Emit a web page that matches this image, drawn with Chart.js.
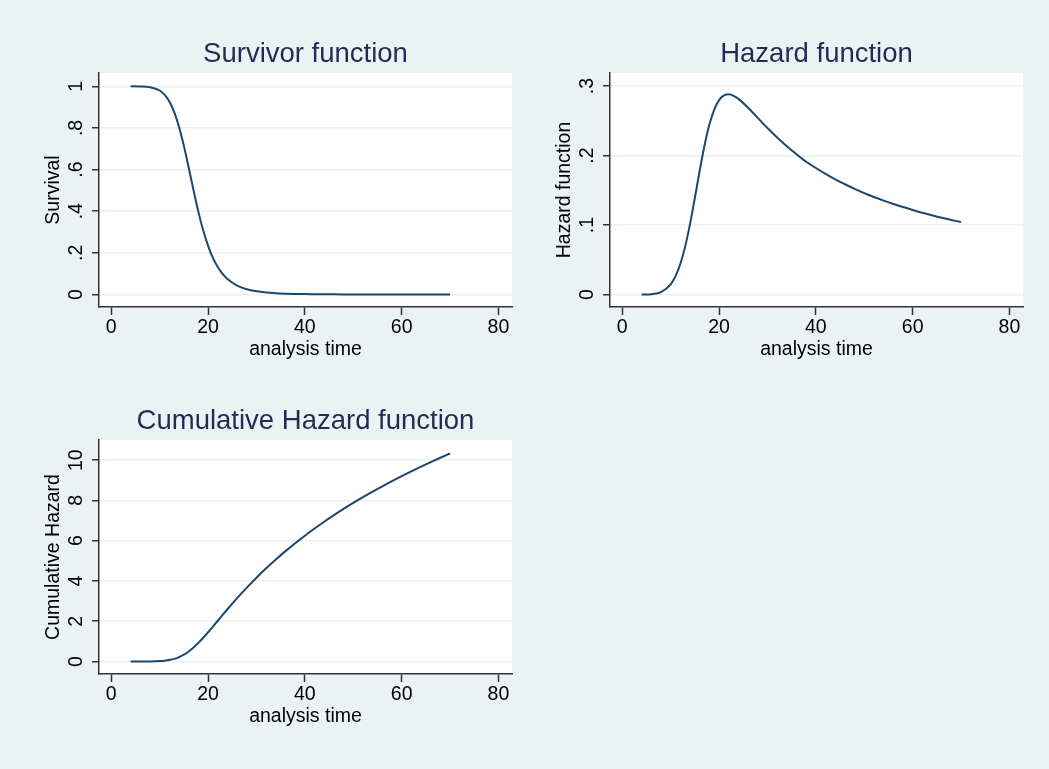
<!DOCTYPE html>
<html>
<head>
<meta charset="utf-8">
<script src="https://cdn.jsdelivr.net/npm/chart.js@4.4.1/dist/chart.umd.min.js"></script>
<style>
  html, body { margin: 0; padding: 0; background: #eaf2f3; }
  body { width: 1049px; height: 769px; position: relative; overflow: hidden; }
  canvas { position: absolute; }
</style>
</head>
<body>
<canvas id="survivor" width="520" height="380" style="left:0;top:0"></canvas>
<canvas id="hazard" width="520" height="380" style="left:511px;top:0"></canvas>
<canvas id="cumhaz" width="520" height="380" style="left:0;top:367px"></canvas>
<script>
// values
const time = [4, 6, 8, 10, 11, 12, 13, 14, 15, 16, 17, 18, 19, 20, 21, 22, 23, 24, 26, 28, 30, 32, 34, 36, 38, 40, 42, 44, 46, 48, 50, 52, 54, 56, 58, 60, 62, 64, 66, 68, 70];
const survival = [1.0, 0.9995, 0.996, 0.98, 0.96, 0.927, 0.876, 0.805, 0.714, 0.609, 0.5, 0.397, 0.307, 0.234, 0.176, 0.132, 0.099, 0.0746, 0.043, 0.0255, 0.0156, 0.0098, 0.0063, 0.0042, 0.0028, 0.0019, 0.0014, 0.001, 0.0007, 0.0005, 0.0004, 0.0003, 0.0002, 0.0002, 0.0001, 0.0001, 0.0001, 0.0001, 0.0, 0.0, 0.0];
const hazard = [0.0, 0.0006, 0.0037, 0.0149, 0.0266, 0.0444, 0.0694, 0.1017, 0.1393, 0.1785, 0.2147, 0.2445, 0.2661, 0.2796, 0.2864, 0.288, 0.2859, 0.2815, 0.2687, 0.2541, 0.2395, 0.2259, 0.2134, 0.2019, 0.191, 0.1821, 0.1736, 0.1657, 0.1587, 0.1521, 0.146, 0.1404, 0.1352, 0.1304, 0.1259, 0.1217, 0.1177, 0.1141, 0.1106, 0.1074, 0.1043];
const cumHazard = [0.0, 0.0005, 0.004, 0.021, 0.041, 0.076, 0.132, 0.217, 0.337, 0.496, 0.693, 0.924, 1.179, 1.453, 1.736, 2.024, 2.311, 2.595, 3.146, 3.669, 4.162, 4.627, 5.066, 5.481, 5.875, 6.248, 6.604, 6.943, 7.267, 7.578, 7.876, 8.162, 8.437, 8.703, 8.959, 9.206, 9.445, 9.678, 9.902, 10.12, 10.331];

const xTicks = [0, 20, 40, 60, 80];
const xTickLabels = ['0', '20', '40', '60', '80'];
const survTicks = [0, 0.2, 0.4, 0.6, 0.8, 1];
const survTickLabels = ['0', '.2', '.4', '.6', '.8', '1'];
const hazTicks = [0, 0.1, 0.2, 0.3];
const hazTickLabels = ['0', '.1', '.2', '.3'];
const cumTicks = [0, 2, 4, 6, 8, 10];
const cumTickLabels = ['0', '2', '4', '6', '8', '10'];

const font = '"Liberation Sans", Arial, Helvetica, sans-serif';
const axisColor = '#333333';

const whitePlot = {
  id: 'whitePlot',
  beforeDraw(chart) {
    const { ctx, chartArea: a } = chart;
    ctx.save();
    ctx.fillStyle = '#ffffff';
    ctx.fillRect(a.left, a.top, a.right - a.left, a.bottom - a.top);
    ctx.restore();
  }
};

function makeChart(id, title, yTitle, values, yTicks, yLabels, yMin, yMax, yPad) {
  return new Chart(document.getElementById(id), {
    type: 'line',
    data: {
      datasets: [{
        data: time.map((t, i) => ({ x: t, y: values[i] })),
        borderColor: '#1a476f',
        borderWidth: 2,
        pointRadius: 0,
        cubicInterpolationMode: 'monotone',
        fill: false
      }]
    },
    options: {
      responsive: false,
      animation: false,
      layout: { padding: { left: 0, top: 0, right: 8, bottom: 17 } },
      plugins: {
        legend: { display: false },
        tooltip: { enabled: false },
        title: {
          display: true,
          text: title,
          fullSize: false,
          color: '#1f2d54',
          font: { family: font, size: 27.5, weight: 'normal' },
          padding: { top: 37.5, bottom: 2.5 }
        }
      },
      scales: {
        x: {
          type: 'linear',
          min: -2.54,
          max: 82.8,
          afterBuildTicks: s => { s.ticks = xTicks.map(v => ({ value: v })); },
          afterFit: s => { s.height = 56; },
          ticks: {
            color: '#000',
            font: { family: font, size: 19.5 },
            padding: 1.2,
            maxRotation: 0,
            callback: (v, i) => xTickLabels[i]
          },
          grid: { drawOnChartArea: false, tickLength: 8, tickColor: axisColor, tickWidth: 1.5 },
          border: { color: axisColor, width: 1.5 },
          title: {
            display: true,
            text: 'analysis time',
            color: '#000',
            font: { family: font, size: 19.5 },
            padding: { top: 0, bottom: 1.2 }
          }
        },
        y: {
          type: 'linear',
          min: yMin,
          max: yMax,
          afterBuildTicks: s => { s.ticks = yTicks.map(v => ({ value: v })); },
          afterFit: s => { s.width = 99; },
          ticks: {
            color: '#000',
            font: { family: font, size: 19.5 },
            minRotation: 90,
            maxRotation: 90,
            crossAlign: 'center',
            padding: yPad,
            callback: (v, i) => yLabels[i]
          },
          grid: { color: '#e8f0f2', lineWidth: 1.5, tickLength: 7, tickColor: axisColor, tickWidth: 1.5 },
          border: { color: axisColor, width: 1.5 },
          title: {
            display: true,
            text: yTitle,
            color: '#000',
            font: { family: font, size: 19.5 },
            padding: { top: 42, bottom: 0 }
          }
        }
      }
    },
    plugins: [whitePlot]
  });
}

makeChart('survivor', 'Survivor function', 'Survival', survival, survTicks, survTickLabels, -0.06, 1.064, 7.2);
makeChart('hazard', 'Hazard function', 'Hazard function', hazard, hazTicks, hazTickLabels, -0.0178, 0.3187, 7.2);
makeChart('cumhaz', 'Cumulative Hazard function', 'Cumulative Hazard', cumHazard, cumTicks, cumTickLabels, -0.62, 11.0, 4.5);
</script>
</body>
</html>
